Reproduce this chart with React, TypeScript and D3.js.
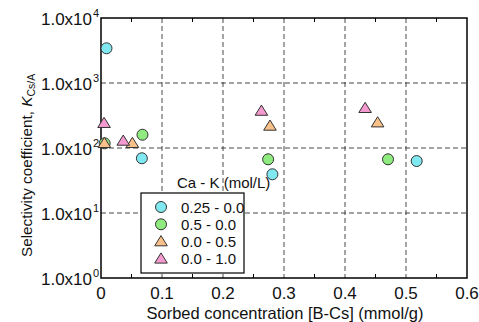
import React from "react";
import * as d3 from "d3";

const series = ["0.25 - 0.0", "0.5 - 0.0", "0.0 - 0.5", "0.0 - 1.0"];
const shapes = ["circle", "circle", "triangle", "triangle"];
const colors = ["#7fe8f0", "#8fea7f", "#f9c08a", "#f49ad0"];

const xCyan = [0.009, 0.067, 0.281, 0.5175];
const yCyan = [3420, 69.5, 39.4, 63];
const xGreen = [0.006, 0.068, 0.274, 0.4705];
const yGreen = [118, 160, 67, 67];
const xOrange = [0.0055, 0.0515, 0.277, 0.4535];
const yOrange = [118, 118, 218, 245];
const xPink = [0.005, 0.0365, 0.263, 0.433];
const yPink = [240, 128, 370, 408];

const xTicks = [0, 0.1, 0.2, 0.3, 0.4, 0.5, 0.6];
const xMinor = [0.05, 0.15, 0.25, 0.35, 0.45, 0.55];
const yExps = [0, 1, 2, 3, 4];

const W = 479, H = 322;
const L = 101, R = 467, T = 18, B = 278;

export default function App() {
  const x = d3.scaleLinear().domain([0, 0.6]).range([L, R]);
  const y = d3.scaleLog().domain([1, 10000]).range([B, T]);
  const font = "'Liberation Sans', Arial, sans-serif";
  const xs = [xCyan, xGreen, xOrange, xPink];
  const ys = [yCyan, yGreen, yOrange, yPink];

  const marker = (shape: string, cx: number, cy: number, fill: string, key: string) => {
    if (shape === "circle")
      return <circle key={key} cx={cx} cy={cy} r={5.5} fill={fill} stroke="#333" strokeWidth={1} />;
    const s = 6;
    const pts = `${cx},${cy - s} ${cx - s * 1.05},${cy + s * 0.7} ${cx + s * 1.05},${cy + s * 0.7}`;
    return <polygon key={key} points={pts} fill={fill} stroke="#333" strokeWidth={1} />;
  };

  return (
    <svg width={W} height={H} style={{ position: "absolute", left: 0, top: 0 }} fontFamily={font}>
      <rect width={W} height={H} fill="#fff" />
      {/* grid */}
      {xTicks.slice(1, -1).map((t) => (
        <line key={"gx" + t} x1={x(t)} x2={x(t)} y1={T} y2={B} stroke="#333" strokeDasharray="5,3" strokeWidth={0.9} />
      ))}
      {yExps.slice(1, -1).map((e) => (
        <line key={"gy" + e} x1={L} x2={R} y1={y(Math.pow(10, e))} y2={y(Math.pow(10, e))} stroke="#333" strokeDasharray="5,3" strokeWidth={0.9} />
      ))}
      {/* minor ticks */}
      {xMinor.map((t) => (
        <g key={"mx" + t}>
          <line x1={x(t)} x2={x(t)} y1={B} y2={B - 4} stroke="#000" />
          <line x1={x(t)} x2={x(t)} y1={T} y2={T + 4} stroke="#000" />
        </g>
      ))}
      <rect x={L} y={T} width={R - L} height={B - T} fill="none" stroke="#000" strokeWidth={1.5} />
      {/* x tick labels */}
      {xTicks.map((t) => (
        <text key={"xt" + t} x={x(t)} y={298.5} textAnchor="middle" fontSize={17} fill="#111">
          {t === 0 ? "0" : d3.format(".1f")(t)}
        </text>
      ))}
      {/* y tick labels */}
      {yExps.map((e) => (
        <text key={"yt" + e} x={L - 9} y={y(Math.pow(10, e)) + 7} textAnchor="end" fontSize={17} fill="#111">
          1.0x10
        </text>
      ))}
      {yExps.map((e) => (
        <text key={"ye" + e} x={L - 8} y={y(Math.pow(10, e)) - 1} textAnchor="start" fontSize={11} fill="#111">
          {e}
        </text>
      ))}
      {/* axis titles */}
      <text x={(L + R) / 2 + 1} y={318.5} textAnchor="middle" fontSize={16.5} fill="#111">
        Sorbed concentration [B-Cs] (mmol/g)
      </text>
      <text transform={`translate(32,257) rotate(-90)`} textAnchor="start" fontSize={15.3} fill="#111">
        Selectivity coefficient, <tspan fontStyle="italic">K</tspan>
        <tspan fontSize={10.5} dy={3}>Cs/A</tspan>
      </text>
      {/* legend */}
      <rect x={141} y={193} width={103} height={80} fill="#fff" stroke="#000" strokeWidth={1.2} />
      <text x={177} y={188} fontSize={15} fill="#111">Ca - K (mol/L)</text>
      {series.map((s, i) => (
        <g key={"lg" + i}>
          {marker(shapes[i], 161, 207 + i * 17.3, colors[i], "lm" + i)}
          <text x={181} y={212.5 + i * 17.3} fontSize={15} fill="#111">{s}</text>
        </g>
      ))}
      {/* points */}
      {xs.map((arr, si) =>
        arr.map((v, j) => marker(shapes[si], x(v), y(ys[si][j]), colors[si], `p${si}-${j}`))
      )}
    </svg>
  );
}
